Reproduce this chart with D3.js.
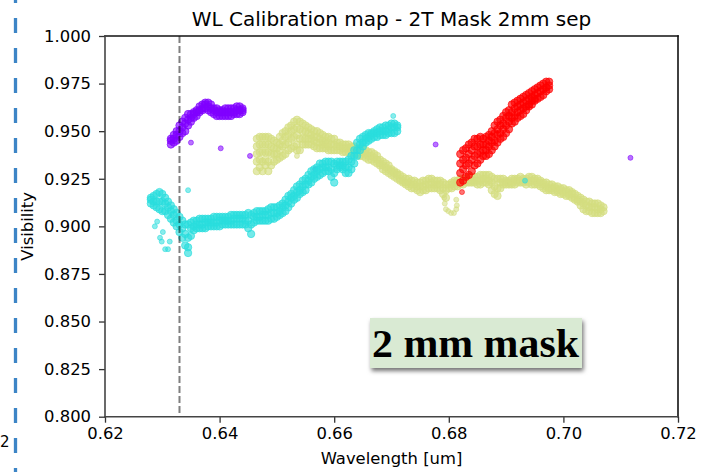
<!DOCTYPE html>
<html>
<head>
<meta charset="utf-8">
<script src="https://cdn.jsdelivr.net/npm/d3@7"></script>
<style>
  body { margin: 0; background: #fff; }
  svg { display: block; }
  text { font-family: "DejaVu Sans", sans-serif; fill: #000; }
</style>
</head>
<body>
<svg id="chart" width="713" height="472"></svg>
<script>
// Axis ticks
const xTicks = [0.62, 0.64, 0.66, 0.68, 0.70, 0.72];
const yTicks = [0.800, 0.825, 0.850, 0.875, 0.900, 0.925, 0.950, 0.975, 1.000];

// Reference wavelength marked by the dashed vertical line
const refWavelength = 0.633;

// Measurements: each row is [wavelength, visibility readings at that wavelength...]
const purpleRows = [
  [0.6315,.946,.945,.943],[0.6320,.948,.946,.944],[0.6325,.950,.948,.945],[0.6330,.953,.950,.947],
  [0.6335,.955,.952,.949],[0.6340,.957,.954,.950],[0.6345,.959,.956,.953],[0.6350,.959,.957,.955],
  [0.6355,.960,.959,.957],[0.6360,.961,.960,.958],[0.6365,.963,.961,.960],[0.6370,.964,.962,.961],
  [0.6375,.965,.964,.962],[0.6380,.965,.963,.961],[0.6385,.964,.962,.960],[0.6390,.962,.961,.959],
  [0.6395,.962,.960,.958],[0.6400,.961,.960,.958],[0.6405,.961,.960,.958],[0.6410,.962,.960,.958],
  [0.6415,.962,.960,.958],[0.6420,.962,.960,.958],[0.6425,.962,.960,.959],[0.6430,.963,.961,.959],
  [0.6435,.963,.961,.959],[0.6440,.962,.961,.960]
];
const purpleExtra = [[0.6350,.944],[0.6402,.941],[0.6453,.937],[0.6567,.930],[0.6777,.943],[0.7117,.936]];

const cyanRows = [
  [0.6280,.915,.914,.912],[0.6285,.916,.913,.911],[0.6290,.917,.913,.910],[0.6295,.918,.913,.909],
  [0.6300,.917,.913,.908],[0.6305,.915,.912,.908],[0.6310,.913,.910,.906],[0.6315,.911,.908,.904],
  [0.6320,.909,.906,.902],[0.6325,.907,.903,.900],[0.6330,.905,.901,.897],[0.6335,.903,.899,.894],
  [0.6340,.901,.896,.890],[0.6345,.901,.894,.889,.886],[0.6350,.902,.899,.895],[0.6355,.903,.900,.898],
  [0.6360,.903,.901,.899],[0.6365,.904,.901,.899],[0.6370,.904,.901,.899],[0.6375,.904,.902,.899],
  [0.6380,.904,.902,.900],[0.6385,.904,.902,.900],[0.6390,.905,.902,.900],[0.6395,.905,.902,.900],
  [0.6400,.905,.903,.900],[0.6405,.905,.903,.901],[0.6410,.905,.903,.901],[0.6415,.905,.903,.901],
  [0.6420,.906,.903,.901],[0.6425,.906,.904,.901],[0.6430,.906,.904,.901],[0.6435,.906,.904,.901],
  [0.6440,.906,.904,.901],[0.6445,.906,.903,.901],[0.6450,.907,.903,.899],[0.6455,.906,.901,.896],
  [0.6460,.907,.905,.902],[0.6465,.908,.905,.903],[0.6470,.908,.905,.903],[0.6475,.908,.906,.903],
  [0.6480,.908,.906,.903],[0.6485,.909,.906,.903],[0.6490,.910,.907,.904],[0.6495,.910,.907,.904],
  [0.6500,.910,.907,.905],[0.6505,.911,.908,.906],[0.6510,.912,.910,.907],[0.6515,.914,.911,.908],
  [0.6520,.916,.913,.910],[0.6525,.917,.915,.912],[0.6530,.919,.916,.914],[0.6535,.921,.918,.915],
  [0.6540,.922,.919,.917],[0.6545,.924,.921,.918],[0.6550,.925,.922,.919],[0.6555,.927,.924,.922],
  [0.6560,.929,.926,.923],[0.6565,.930,.927,.925],[0.6570,.931,.929,.926],[0.6575,.933,.930,.927],
  [0.6580,.933,.931,.928],[0.6585,.934,.931,.929],[0.6590,.934,.931,.929],[0.6595,.934,.930,.926],
  [0.6600,.933,.928,.923],[0.6605,.934,.932,.930],[0.6610,.934,.932,.931],[0.6615,.934,.932,.930],
  [0.6620,.934,.931,.928],[0.6625,.935,.931,.928],[0.6630,.937,.934,.930],[0.6635,.940,.937,.933],
  [0.6640,.944,.940,.937],[0.6645,.946,.943,.940],[0.6650,.947,.944,.942],[0.6655,.948,.946,.944],
  [0.6660,.949,.947,.945],[0.6665,.949,.948,.946],[0.6670,.950,.949,.947],[0.6675,.951,.949,.947],
  [0.6680,.952,.950,.948],[0.6685,.952,.950,.948],[0.6690,.953,.950,.948],[0.6695,.953,.951,.949],
  [0.6700,.954,.952,.949],[0.6705,.954,.952,.949],[0.6710,.953,.952,.950]
];
const cyanExtra = [[0.6287,.900],[0.6291,.9025],[0.6296,.894],[0.6299,.892],[0.6301,.897],[0.6305,.888],
  [0.6310,.888],[0.6313,.892],[0.6345,.919],[0.6703,.958],[0.6933,.924]];

const yellowRows = [
  [0.6465,.946,.942,.938,.934,.929],[0.6470,.947,.943,.939,.935,.931],[0.6475,.947,.943,.939,.934,.929],
  [0.6480,.947,.943,.939,.935,.932],[0.6485,.947,.943,.939,.934,.929],[0.6490,.946,.942,.938,.932],
  [0.6495,.945,.941,.938,.934],[0.6500,.944,.941,.938,.935],[0.6505,.947,.943,.940,.936],
  [0.6510,.949,.945,.942,.937],[0.6515,.950,.947,.943,.938],[0.6520,.952,.948,.944,.940],
  [0.6525,.953,.950,.946,.941],[0.6530,.955,.951,.947,.942],[0.6535,.956,.952,.948,.943,.940],
  [0.6540,.955,.951,.946,.940],[0.6545,.954,.950,.946,.943],[0.6550,.953,.950,.946,.943],
  [0.6555,.952,.949,.946,.943],[0.6560,.951,.948,.946,.943],[0.6565,.950,.947,.945,.942],
  [0.6570,.950,.947,.944,.941],[0.6575,.949,.946,.944,.941],[0.6580,.948,.945,.943,.941],
  [0.6585,.947,.945,.943,.941],[0.6590,.947,.944,.942,.940],[0.6595,.946,.943,.940],
  [0.6600,.946,.943,.940],[0.6605,.944,.942,.940],[0.6610,.944,.942,.940],[0.6615,.943,.941,.939],
  [0.6620,.943,.941,.939],[0.6625,.943,.941,.939],[0.6630,.942,.941,.939],[0.6635,.942,.940,.938],
  [0.6640,.941,.940,.938],[0.6645,.941,.939,.937],[0.6650,.941,.939,.937],[0.6655,.940,.938,.936],
  [0.6660,.939,.937,.935],[0.6665,.939,.937,.935],[0.6670,.938,.936,.934],[0.6675,.937,.935,.933],
  [0.6680,.935,.933,.932],[0.6685,.934,.932,.930],[0.6690,.933,.931,.929],[0.6695,.932,.930,.928],
  [0.6700,.930,.929,.927],[0.6705,.929,.928,.926],[0.6710,.928,.927,.925],[0.6715,.927,.925,.924],
  [0.6720,.926,.924,.923],[0.6725,.925,.923,.922],[0.6730,.925,.923,.921],[0.6735,.924,.922,.920],
  [0.6740,.924,.922,.920],[0.6745,.923,.921,.919],[0.6750,.923,.921,.918],[0.6755,.924,.921,.919],
  [0.6760,.924,.922,.919],[0.6765,.925,.922,.920],[0.6770,.925,.923,.920],[0.6775,.924,.922,.920],
  [0.6780,.924,.922,.920],[0.6785,.924,.922,.919],[0.6790,.923,.920,.917],[0.6795,.922,.919,.915],
  [0.6800,.922,.920],[0.6805,.923,.922,.920],[0.6810,.924,.923,.921],[0.6815,.924,.923,.921],
  [0.6820,.925,.923,.922],[0.6825,.925,.924,.922],[0.6830,.925,.924,.923],[0.6835,.926,.924,.923],
  [0.6840,.926,.924,.923],[0.6845,.926,.924,.923],[0.6850,.926,.924,.922],[0.6855,.927,.924,.922],
  [0.6860,.927,.925,.923],[0.6865,.927,.925,.923],[0.6870,.927,.924,.922],[0.6875,.926,.923,.919],
  [0.6880,.925,.921,.917],[0.6885,.925,.920,.916],[0.6890,.925,.923,.920],[0.6895,.925,.923,.922],
  [0.6900,.924,.923,.922],[0.6905,.924,.923,.922],[0.6910,.925,.923,.922],[0.6915,.925,.924,.922],
  [0.6920,.925,.924,.923],[0.6925,.926,.924,.923],[0.6930,.925,.924,.923],[0.6935,.925,.924,.922],
  [0.6940,.926,.924,.923],[0.6945,.926,.924,.922],[0.6950,.925,.924,.922],[0.6955,.925,.923,.922],
  [0.6960,.924,.923,.921],[0.6965,.923,.922,.920],[0.6970,.923,.921,.919],[0.6975,.922,.920,.919],
  [0.6980,.922,.920,.919],[0.6985,.921,.920,.918],[0.6990,.921,.919,.918],[0.6995,.920,.919,.917],
  [0.7000,.920,.918,.917],[0.7005,.919,.918,.916],[0.7010,.919,.917,.916],[0.7015,.918,.917,.915],
  [0.7020,.917,.915,.914],[0.7025,.916,.914,.913],[0.7030,.915,.913,.911],[0.7035,.914,.912,.909],
  [0.7040,.913,.911,.908],[0.7045,.913,.910,.908],[0.7050,.912,.910,.907],[0.7055,.912,.910,.907],
  [0.7060,.912,.909,.907],[0.7065,.911,.909,.907],[0.7070,.910,.908]
];
const yellowExtra = [[0.6792,.915],[0.6793,.912],[0.6795,.909],[0.6799,.908],[0.6804,.907],
  [0.6809,.907],[0.6813,.909],[0.6814,.911],[0.6813,.914],[0.6535,.937]];

const redRows = [
  [0.6820,.938,.933,.928,.923],[0.6825,.940,.935,.930,.924],[0.6830,.941,.936,.932,.926],
  [0.6835,.943,.938,.933,.927],[0.6840,.944,.940,.935,.929],[0.6845,.946,.942,.937,.932],
  [0.6850,.946,.942,.938,.933],[0.6855,.947,.943,.939,.935],[0.6860,.946,.943,.940,.937],
  [0.6865,.947,.943,.940,.937],[0.6870,.948,.945,.942,.938],[0.6875,.950,.947,.944,.940],
  [0.6880,.953,.949,.945,.942],[0.6885,.955,.951,.948,.944],[0.6890,.956,.953,.949,.946],
  [0.6895,.958,.954,.951,.947],[0.6900,.960,.957,.953,.949],[0.6905,.961,.958,.955,.951],
  [0.6910,.964,.960,.957,.954],[0.6915,.965,.962,.958,.955],[0.6920,.966,.963,.960,.957],
  [0.6925,.967,.964,.961,.958],[0.6930,.968,.965,.962,.959],[0.6935,.969,.966,.963,.961],
  [0.6940,.970,.967,.964,.963],[0.6945,.971,.968,.966,.964],[0.6950,.972,.969,.967,.966],
  [0.6955,.973,.970,.967],[0.6960,.974,.971,.968],[0.6965,.975,.972,.969],
  [0.6970,.976,.973,.971],[0.6975,.976,.974,.972]
];
const redExtra = [[0.6823,.918]];

// Draw order and colours (rainbow colormap samples)
const series = [
  { color: "#8000ff", rows: purpleRows, extra: purpleExtra },
  { color: "#d4dd80", rows: yellowRows, extra: yellowExtra },
  { color: "#2adddd", rows: cyanRows, extra: cyanExtra },
  { color: "#ff0000", rows: redRows, extra: redExtra }
];

const svg = d3.select("#chart");
const plot = { left: 105, right: 678, top: 36, bottom: 416.7 };

const x = d3.scaleLinear().domain([0.62, 0.72]).range([plot.left, plot.right]);
const y = d3.scaleLinear().domain([0.80, 1.00]).range([plot.bottom, plot.top]);

// Page-edge decoration: dashed blue rule and a digit at the margin
svg.append("line")
  .attr("x1", 15.5).attr("x2", 15.5).attr("y1", 0).attr("y2", 472)
  .attr("stroke", "#3d85c6").attr("stroke-width", 3.3)
  .attr("stroke-dasharray", "15,15").attr("stroke-dashoffset", 12);
svg.append("text").attr("x", 0).attr("y", 447)
  .style("font-size", "15px").text("2");

// Scatter points: dense runs and isolated samples
const runPoints = s => s.rows.flatMap(([w, ...vs]) => vs.map(v => [w, v]));
series.forEach(s => {
  const g = svg.append("g");
  const dot = (sel, r, op) => sel
    .attr("cx", d => x(d[0]))
    .attr("cy", d => y(d[1]))
    .attr("r", r)
    .attr("fill", s.color).attr("fill-opacity", op)
    .attr("stroke", s.color).attr("stroke-opacity", op).attr("stroke-width", 1);
  g.append("g").selectAll("circle").data(runPoints(s)).join("circle").call(dot, 3.7, 0.65);
  g.append("g").selectAll("circle").data(s.extra).join("circle").call(dot, 2.5, 0.55);
});

// Dashed reference wavelength line
svg.append("line")
  .attr("x1", x(refWavelength)).attr("x2", x(refWavelength))
  .attr("y1", plot.top).attr("y2", plot.bottom)
  .attr("stroke", "#000").attr("stroke-opacity", 0.5)
  .attr("stroke-width", 2).attr("stroke-dasharray", "7,3");

// Axes
const xAxis = svg.append("g")
  .attr("transform", `translate(0,${plot.bottom})`)
  .call(d3.axisBottom(x).tickValues(xTicks).tickFormat(d3.format(".2f")).tickSize(6).tickPadding(5));
const yAxis = svg.append("g")
  .attr("transform", `translate(${plot.left},0)`)
  .call(d3.axisLeft(y).tickValues(yTicks).tickFormat(d3.format(".3f")).tickSize(6).tickPadding(8));
[xAxis, yAxis].forEach(g => {
  g.select(".domain").remove();
  g.selectAll(".tick line").attr("stroke", "#333").attr("stroke-width", 1.3);
  g.selectAll(".tick text").style("font-family", "'DejaVu Sans', sans-serif").style("font-size", "16.4px").attr("fill", "#000");
});

// Spines
const spine = (x1, y1, x2, y2, c) => svg.append("line")
  .attr("x1", x1).attr("y1", y1).attr("x2", x2).attr("y2", y2)
  .attr("stroke", c).attr("stroke-width", 1.6).attr("stroke-linecap", "square");
spine(plot.left, plot.top, plot.right, plot.top, "#111");
spine(plot.right, plot.top, plot.right, plot.bottom, "#111");
spine(plot.left, plot.top, plot.left, plot.bottom, "#444");
spine(plot.left, plot.bottom, plot.right, plot.bottom, "#444");

// Titles
svg.append("text").attr("x", (plot.left + plot.right) / 2).attr("y", 26)
  .attr("text-anchor", "middle").style("font-size", "20px")
  .text("WL Calibration map - 2T Mask 2mm sep");
svg.append("text").attr("x", (plot.left + plot.right) / 2).attr("y", 464)
  .attr("text-anchor", "middle").style("font-size", "16.4px")
  .text("Wavelength [um]");
svg.append("text")
  .attr("transform", `translate(33,${(plot.top + plot.bottom) / 2}) rotate(-90)`)
  .attr("text-anchor", "middle").style("font-size", "16.4px")
  .text("Visibility");

// "2 mm mask" label box
const defs = svg.append("defs");
const f = defs.append("filter").attr("id", "boxShadow")
  .attr("x", "-10%").attr("y", "-20%").attr("width", "125%").attr("height", "150%");
f.append("feDropShadow").attr("dx", 1.5).attr("dy", 3).attr("stdDeviation", 2)
  .attr("flood-color", "#000").attr("flood-opacity", 0.55);
svg.append("rect").attr("x", 370).attr("y", 318).attr("width", 212).attr("height", 50)
  .attr("fill", "#d9ead3").attr("filter", "url(#boxShadow)");
svg.append("text").attr("x", 372).attr("y", 357)
  .style("font-family", "'Liberation Serif', 'Times New Roman', serif")
  .style("font-weight", "bold").style("font-size", "39px")
  .attr("textLength", 207).attr("lengthAdjust", "spacingAndGlyphs")
  .text("2 mm mask");
</script>
</body>
</html>
